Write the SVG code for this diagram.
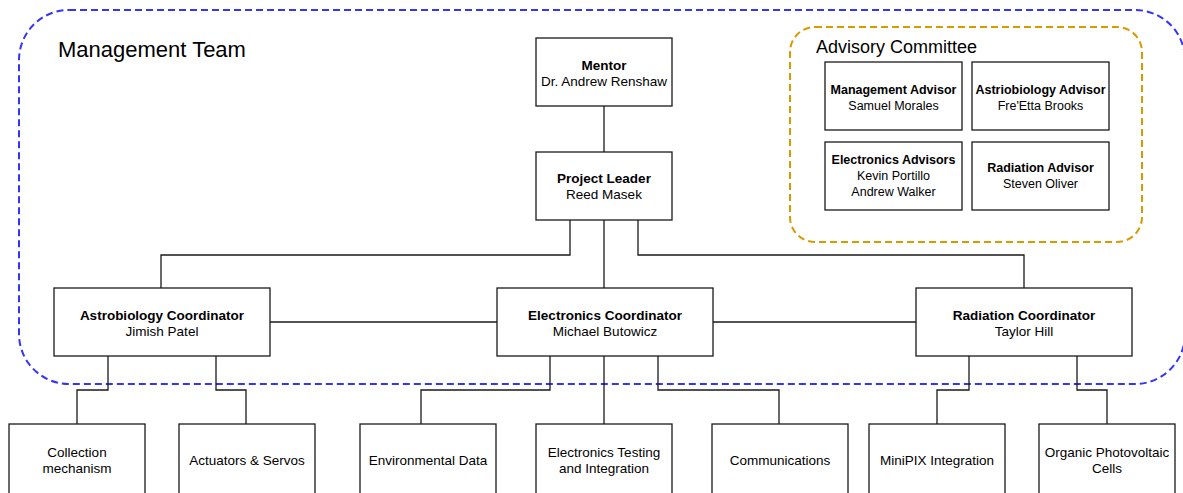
<svg xmlns="http://www.w3.org/2000/svg" width="1183" height="493" viewBox="0 0 1183 493">
<style>
.box{fill:#fff;stroke:#1a1a1a;stroke-width:1.3}
.ln{fill:none;stroke:#1a1a1a;stroke-width:1.3}
text{font-family:"Liberation Sans",Arial,sans-serif;fill:#000;text-anchor:middle}
.t{font-size:13.5px}
.b{font-size:13.5px;font-weight:bold}
.at{font-size:12.5px}
.ab{font-size:12.5px;font-weight:bold}
.grp{font-size:22px;text-anchor:start}
</style>
<rect x="0" y="0" width="1183" height="493" fill="#fff"/>
<g id="management-team">
<rect x="19" y="10" width="1166" height="374" rx="50" fill="none" stroke="#3535f5" stroke-width="2" stroke-dasharray="7 4"/>
<text class="grp" x="58" y="57">Management Team</text>
</g>
<g id="advisory-committee">
<rect x="790" y="27" width="352" height="215" rx="25" fill="none" stroke="#d79b00" stroke-width="2" stroke-dasharray="7 4"/>
<text x="816" y="53" style="font-size:18px;text-anchor:start">Advisory Committee</text>
</g>
<g id="connectors">
<path class="ln" d="M604 106V152"/>
<path class="ln" d="M570 220V255H161V288"/>
<path class="ln" d="M604 220V288"/>
<path class="ln" d="M638 220V255H1024V288"/>
<path class="ln" d="M270 322H497"/>
<path class="ln" d="M713 322H916"/>
<path class="ln" d="M108 356V390H77V424"/>
<path class="ln" d="M216 356V390H246V424"/>
<path class="ln" d="M550 356V390H421V424"/>
<path class="ln" d="M604 356V424"/>
<path class="ln" d="M658 356V390H779V424"/>
<path class="ln" d="M969 356V390H937V424"/>
<path class="ln" d="M1077 356V390H1107V424"/>
</g>
<g id="mentor">
<rect class="box" x="536" y="38" width="136" height="68"/>
<text class="b" x="604" y="70">Mentor</text>
<text class="t" x="604" y="86">Dr. Andrew Renshaw</text>
</g>
<g id="project-leader">
<rect class="box" x="536" y="152" width="136" height="68"/>
<text class="b" x="604" y="183">Project Leader</text>
<text class="t" x="604" y="199">Reed Masek</text>
</g>
<g id="management-advisor">
<rect class="box" x="825" y="62" width="137" height="68"/>
<text class="ab" x="893.5" y="94">Management Advisor</text>
<text class="at" x="893.5" y="110">Samuel Morales</text>
</g>
<g id="astriobiology-advisor">
<rect class="box" x="972" y="62" width="137" height="68"/>
<text class="ab" x="1040.5" y="94">Astriobiology Advisor</text>
<text class="at" x="1040.5" y="110">Fre'Etta Brooks</text>
</g>
<g id="electronics-advisors">
<rect class="box" x="825" y="142" width="137" height="68"/>
<text class="ab" x="893.5" y="164">Electronics Advisors</text>
<text class="at" x="893.5" y="180">Kevin Portillo</text>
<text class="at" x="893.5" y="196">Andrew Walker</text>
</g>
<g id="radiation-advisor">
<rect class="box" x="972" y="142" width="137" height="68"/>
<text class="ab" x="1040.5" y="172">Radiation Advisor</text>
<text class="at" x="1040.5" y="188">Steven Oliver</text>
</g>
<g id="astrobiology-coordinator">
<rect class="box" x="54" y="288" width="216" height="68"/>
<text class="b" x="162" y="320">Astrobiology Coordinator</text>
<text class="t" x="162" y="336">Jimish Patel</text>
</g>
<g id="electronics-coordinator">
<rect class="box" x="497" y="288" width="216" height="68"/>
<text class="b" x="605" y="320">Electronics Coordinator</text>
<text class="t" x="605" y="336">Michael Butowicz</text>
</g>
<g id="radiation-coordinator">
<rect class="box" x="916" y="288" width="216" height="68"/>
<text class="b" x="1024" y="320">Radiation Coordinator</text>
<text class="t" x="1024" y="336">Taylor Hill</text>
</g>
<g id="collection-mechanism">
<rect class="box" x="9" y="424" width="136" height="72"/>
<text class="t" x="77" y="457">Collection</text>
<text class="t" x="77" y="473">mechanism</text>
</g>
<g id="actuators-servos">
<rect class="box" x="179" y="424" width="136" height="72"/>
<text class="t" x="247" y="465">Actuators &amp; Servos</text>
</g>
<g id="environmental-data">
<rect class="box" x="360" y="424" width="136" height="72"/>
<text class="t" x="428" y="465">Environmental Data</text>
</g>
<g id="electronics-testing">
<rect class="box" x="536" y="424" width="136" height="72"/>
<text class="t" x="604" y="457">Electronics Testing</text>
<text class="t" x="604" y="473">and Integration</text>
</g>
<g id="communications">
<rect class="box" x="712" y="424" width="136" height="72"/>
<text class="t" x="780" y="465">Communications</text>
</g>
<g id="minipix-integration">
<rect class="box" x="869" y="424" width="136" height="72"/>
<text class="t" x="937" y="465">MiniPIX Integration</text>
</g>
<g id="organic-photovoltaic">
<rect class="box" x="1039" y="424" width="136" height="72"/>
<text class="t" x="1107" y="457">Organic Photovoltaic</text>
<text class="t" x="1107" y="473">Cells</text>
</g>
</svg>
